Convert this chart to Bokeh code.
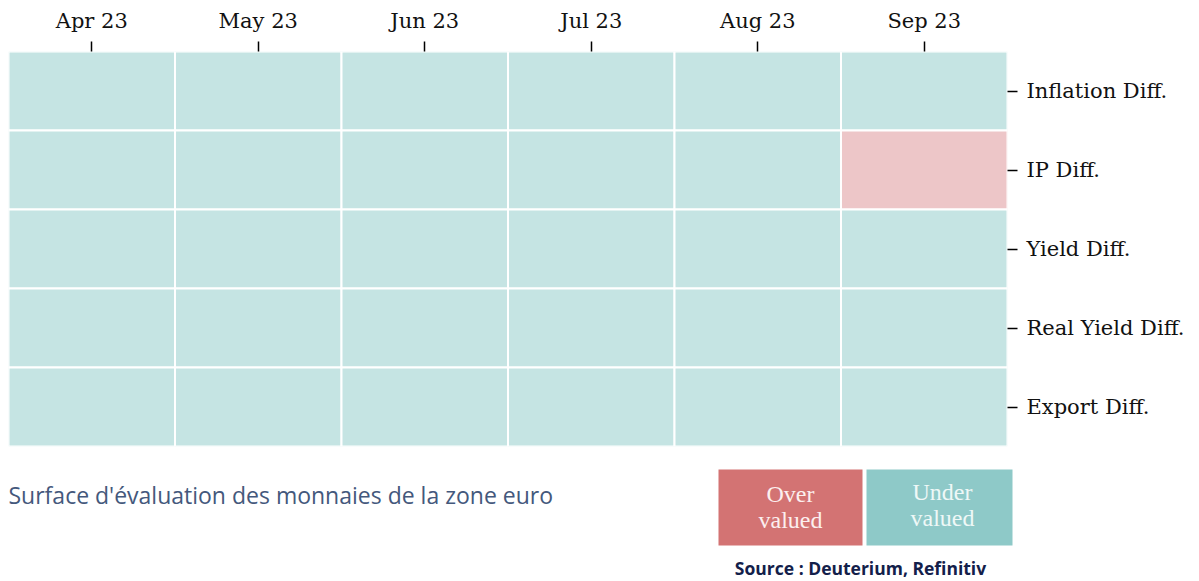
from bokeh.plotting import figure
from bokeh.models import ColumnDataSource, CategoricalAxis, Range1d, FactorRange
from bokeh.layouts import column
from bokeh.embed import file_html
from bokeh.resources import INLINE
from bokeh.core.properties import value

# ---- data ----
months = ["Apr 23", "May 23", "Jun 23", "Jul 23", "Aug 23", "Sep 23"]
indicators = ["Inflation Diff.", "IP Diff.", "Yield Diff.", "Real Yield Diff.", "Export Diff."]
# 1 = over valued, 0 = under valued ; rows follow indicators, columns follow months
inflation_diff = [0, 0, 0, 0, 0, 0]
ip_diff = [0, 0, 0, 0, 0, 1]
yield_diff = [0, 0, 0, 0, 0, 0]
real_yield_diff = [0, 0, 0, 0, 0, 0]
export_diff = [0, 0, 0, 0, 0, 0]
legend_labels = ["Over\nvalued", "Under\nvalued"]
title_text = "Surface d'évaluation des monnaies de la zone euro"
source_text = "Source : Deuterium, Refinitiv"

cell_colors = {0: "#c5e4e3", 1: "#edc6c8"}
legend_colors = ["#d37373", "#8ec9c8"]
legend_text_colors = ["#fcefef", "#eef8f7"]

rows = [inflation_diff, ip_diff, yield_diff, real_yield_diff, export_diff]
xs, ys, cols = [], [], []
for ind, row in zip(indicators, rows):
    for m, v in zip(months, row):
        xs.append(m)
        ys.append(ind)
        cols.append(cell_colors[v])
src = ColumnDataSource(dict(x=xs, y=ys, c=cols))

SERIF = "DejaVu Serif"

p = figure(width=1191, height=447, output_backend="svg", toolbar_location=None,
           x_range=FactorRange(*months), y_range=FactorRange(*reversed(indicators)),
           x_axis_location=None, y_axis_location=None,
           min_border_left=8, min_border_right=184, min_border_top=51, min_border_bottom=1)
p.outline_line_color = None
p.xgrid.visible = False
p.ygrid.visible = False
p.rect(x="x", y="y", width=1, height=1, source=src, fill_color="c",
       line_color="white", line_width=2)

top = CategoricalAxis()
right = CategoricalAxis()
for ax in (top, right):
    ax.axis_line_color = None
    ax.major_tick_out = 10
    ax.major_tick_in = 0
    ax.major_tick_line_color = "black"
    ax.major_tick_line_width = 1.5
    ax.minor_tick_line_color = None
    ax.major_label_text_font = SERIF
    ax.major_label_text_font_size = "21px"
    ax.major_label_text_color = "#111111"
top.major_label_standoff = 9
right.major_label_standoff = 9
p.add_layout(top, "above")
p.add_layout(right, "right")

# ---- bottom panel: caption, legend, source ----
q = figure(width=1191, height=133, output_backend="svg", toolbar_location=None,
           x_range=Range1d(0, 1191), y_range=Range1d(133, 0),
           x_axis_location=None, y_axis_location=None,
           min_border=0)
q.frame_align = False
q.outline_line_color = None
q.xgrid.visible = False
q.ygrid.visible = False

q.text(x=[8], y=[47], text=[title_text], text_font=value("Open Sans"),
       text_font_size="23px", text_color="#44587c", text_baseline="middle", text_align="left")

q.rect(x=[790, 939], y=[60, 60], width=[144, 146], height=[76, 76],
       fill_color=legend_colors, line_color=None)
q.text(x=[790, 942], y=[59, 57], text=legend_labels, text_font=value("Liberation Serif"),
       text_font_size="24px", text_color=legend_text_colors, text_baseline="middle",
       text_align="center", text_line_height=1.0)

q.text(x=[860], y=[120], text=[source_text], text_font=value("Open Sans"),
       text_font_style="bold", text_font_size="17.5px", text_color="#13204a",
       text_baseline="middle", text_align="center")

layout = column(p, q, spacing=0)
open("out.html", "w").write(file_html(layout, INLINE))
